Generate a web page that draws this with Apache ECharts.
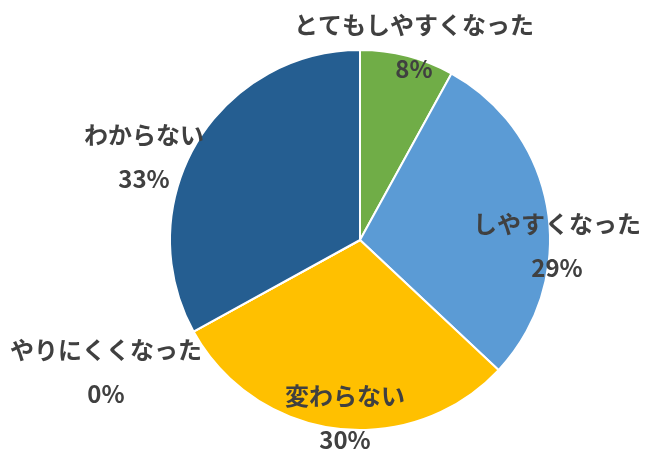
<!DOCTYPE html>
<html>
<head>
<meta charset="utf-8">
<script src="https://cdn.jsdelivr.net/npm/echarts@6/dist/echarts.min.js"></script>
<style>
  html, body { margin: 0; padding: 0; background: #fff; }
  #chart { width: 650px; height: 459px; }
</style>
</head>
<body>
<div id="chart"></div>
<script>
// 回答の分類と割合(%)
const categories = ['とてもしやすくなった', 'しやすくなった', '変わらない', 'やりにくくなった', 'わからない']
const values = [8, 29, 30, 0, 33]
const colors = ['#70AD47', '#5B9BD5', '#FFC000', '#ED7D31', '#255E91']

// ラベルの置き場所(Excelの配置に合わせる)
const labelPos = [[414, 47], [557, 246], [345, 418], [106, 372], [144, 157]]

const myChart = echarts.init(document.getElementById('chart'))
const option = {
  animation: false,
  series: [
    {
      type: 'pie',
      center: [360, 240],
      radius: 190,
      startAngle: 90,
      clockwise: true,
      data: categories.map((name, i) => ({
        name: name,
        value: values[i],
        itemStyle: { color: colors[i] }
      })),
      itemStyle: { borderColor: '#fff', borderWidth: 2 },
      label: {
        show: true,
        position: 'outside',
        formatter: '{b}\n{c}%',
        fontFamily: 'Noto Sans CJK JP',
        fontWeight: 'bold',
        fontSize: 24,
        lineHeight: 44,
        color: '#404040',
        overflow: 'none',
        width: 300
      },
      labelLine: { show: false },
      labelLayout: function (params) {
        const p = labelPos[params.dataIndex]
        return { x: p[0], y: p[1], align: 'center', verticalAlign: 'middle', hideOverlap: false }
      },
      emphasis: { disabled: true }
    }
  ]
}
myChart.setOption(option)
</script>
</body>
</html>
